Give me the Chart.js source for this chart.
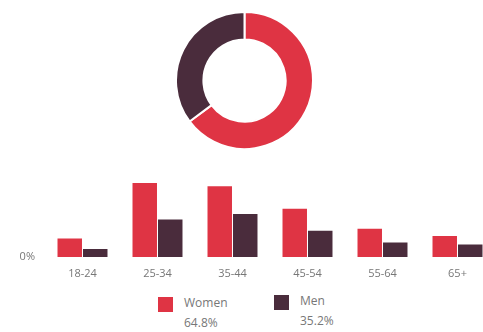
<!DOCTYPE html>
<html>
<head>
<meta charset="utf-8">
<script src="https://cdn.jsdelivr.net/npm/chart.js@4.4.0/dist/chart.umd.min.js"></script>
<style>
  html, body { margin: 0; padding: 0; background: #fff; overflow: hidden; }
  body { width: 483px; height: 332px; position: relative; font-family: "Open Sans", sans-serif; }
  #donutBox { position: absolute; left: 175px; top: 11px; width: 139px; height: 139px; }
  #barBox { position: absolute; left: 0; top: 160px; width: 495px; height: 120px; }
  .leg { position: absolute; color: #777; font-size: 12px; line-height: 20px; }
  .leg .sw { position: absolute; left: 0; top: 1px; width: 15px; height: 15px; }
  .leg .txt { position: absolute; left: 26px; top: -3px; white-space: nowrap; }
</style>
</head>
<body>
<div id="donutBox"><canvas id="donut"></canvas></div>
<div id="barBox"><canvas id="bars"></canvas></div>
<div class="leg" id="legWomen" style="left:158px; top:296px;"><div class="sw"></div><div class="txt"></div></div>
<div class="leg" id="legMen" style="left:274px; top:294px;"><div class="sw"></div><div class="txt"></div></div>
<script>
// age groups
const ageGroups = ['18-24', '25-34', '35-44', '45-54', '55-64', '65+'];
// share of audience per age group (%)
const women = [4.6, 18.4, 17.6, 12.0, 7.0, 5.2];
const men = [2.0, 9.3, 10.7, 6.5, 3.6, 3.1];
// gender split (%)
const genderLabels = ['Women', 'Men'];
const genderShare = [64.8, 35.2];

const womenColor = '#df3444';
const menColor = '#4a2c3c';

// donut on top
new Chart(document.getElementById('donut'), {
  type: 'doughnut',
  data: {
    labels: genderLabels,
    datasets: [{
      data: genderShare,
      backgroundColor: [womenColor, menColor],
      borderColor: '#fff',
      borderWidth: 2
    }]
  },
  options: {
    responsive: true,
    maintainAspectRatio: false,
    animation: false,
    cutout: '60%',
    plugins: { legend: { display: false }, tooltip: { enabled: false } }
  }
});

// grouped bars by age
new Chart(document.getElementById('bars'), {
  type: 'bar',
  data: {
    labels: ageGroups,
    datasets: [
      { label: 'Women', data: women, backgroundColor: womenColor },
      { label: 'Men', data: men, backgroundColor: menColor }
    ]
  },
  options: {
    responsive: true,
    maintainAspectRatio: false,
    animation: false,
    layout: { padding: { top: 13, left: 0, right: 0, bottom: 0 } },
    datasets: { bar: { categoryPercentage: 0.68, barPercentage: 0.96 } },
    scales: {
      x: {
        grid: { display: false, drawTicks: false },
        border: { display: false },
        ticks: { color: '#777', font: { family: 'Open Sans', size: 11 }, padding: 10, maxRotation: 0 },
        afterFit: (s) => { s.height = 23; }
      },
      y: {
        min: 0,
        max: 20,
        grid: { display: false, drawTicks: false },
        border: { display: false },
        ticks: {
          stepSize: 20,
          padding: 10,
          color: '#777',
          font: { family: 'Open Sans', size: 11 },
          callback: (v) => v === 0 ? '0%' : ''
        },
        afterFit: (s) => { s.width = 45; }
      }
    },
    plugins: { legend: { display: false }, tooltip: { enabled: false } }
  }
});

// two-line legend under the bars
const legIds = ['legWomen', 'legMen'];
legIds.forEach((id, i) => {
  const el = document.getElementById(id);
  el.querySelector('.sw').style.background = i === 0 ? womenColor : menColor;
  el.querySelector('.txt').innerHTML = genderLabels[i] + '<br>' + genderShare[i].toFixed(1) + '%';
});
</script>
</body>
</html>
